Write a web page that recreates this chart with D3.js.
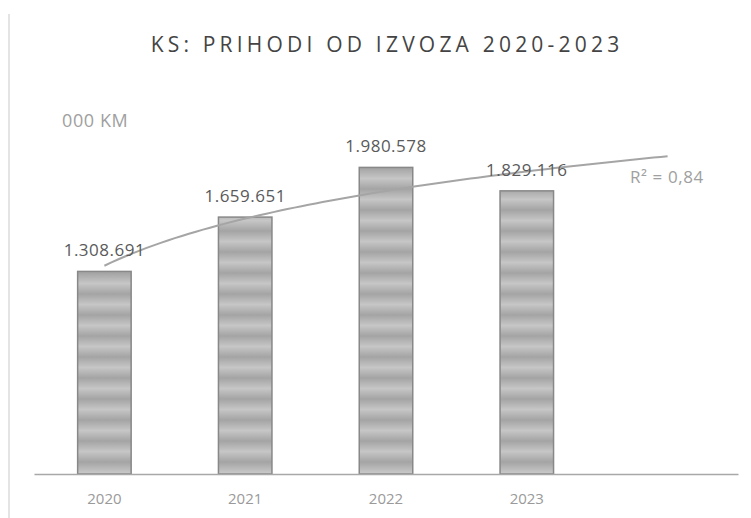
<!DOCTYPE html>
<html>
<head>
<meta charset="utf-8">
<script src="https://cdn.jsdelivr.net/npm/d3@7"></script>
<style>
  body { margin: 0; background: #fff; }
  svg { display: block; font-family: 'Open Sans', 'Liberation Sans', sans-serif; }
</style>
</head>
<body>
<div id="chart"></div>
<script>
const years = ['2020', '2021', '2022', '2023'];
const values = [1308691, 1659651, 1980578, 1829116];
const valueLabels = ['1.308.691', '1.659.651', '1.980.578', '1.829.116'];
const unitLabel = '000 KM';
const titleText = 'KS: PRIHODI OD IZVOZA 2020-2023';
const r2Text = 'R² = 0,84';

const width = 751;
const height = 518;

const svg = d3.select('#chart')
  .append('svg')
  .attr('width', width)
  .attr('height', height);

// stripy grey fill like the scanned bars
const defs = svg.append('defs');
const grad = defs.append('linearGradient')
  .attr('id', 'stripeGrad')
  .attr('x1', 0).attr('y1', 0).attr('x2', 0).attr('y2', 1);
grad.append('stop').attr('offset', '0%').attr('stop-color', '#a4a4a4');
grad.append('stop').attr('offset', '50%').attr('stop-color', '#c6c6c6');
grad.append('stop').attr('offset', '100%').attr('stop-color', '#a4a4a4');
defs.append('pattern')
  .attr('id', 'stripes')
  .attr('patternUnits', 'userSpaceOnUse')
  .attr('width', 60).attr('height', 21)
  .append('rect')
  .attr('width', 60).attr('height', 21)
  .attr('fill', 'url(#stripeGrad)');

// scanned page edge
svg.append('line')
  .attr('x1', 9).attr('x2', 9)
  .attr('y1', 14).attr('y2', height)
  .attr('stroke', '#e4e4e4').attr('stroke-width', 2);

// one extra empty slot for the trend forecast
const slots = years.concat(['']);
const x = d3.scaleBand()
  .domain(slots)
  .range([34, 738])
  .paddingInner(0.62)
  .paddingOuter(0.31);

const y = d3.scaleLinear()
  .domain([0, 2000000])
  .range([474, 164.4]);

svg.append('text')
  .attr('x', 387).attr('y', 52)
  .attr('text-anchor', 'middle')
  .style('font-size', '21px')
  .style('letter-spacing', '4.2px')
  .style('fill', '#444')
  .text(titleText);

svg.append('text')
  .attr('x', 62).attr('y', 127)
  .style('font-size', '18px')
  .style('letter-spacing', '0.6px')
  .style('fill', '#a0a0a0')
  .text(unitLabel);

const data = years.map((yr, i) => ({ year: yr, value: values[i], label: valueLabels[i] }));

svg.selectAll('rect.bar')
  .data(data).enter()
  .append('rect')
  .attr('class', 'bar')
  .attr('x', d => x(d.year))
  .attr('y', d => y(d.value))
  .attr('width', x.bandwidth())
  .attr('height', d => y(0) - y(d.value))
  .attr('fill', 'url(#stripes)')
  .attr('stroke', '#888')
  .attr('stroke-width', 1.5);

// baseline axis
const xAxis = d3.axisBottom(x).tickValues(years).tickSize(0).tickPadding(19);
const gx = svg.append('g')
  .attr('transform', `translate(0, ${y(0)})`)
  .call(xAxis);
gx.select('.domain').attr('stroke', '#a8a8a8').attr('stroke-width', 1.5);
gx.selectAll('text')
  .style('font-size', '15px')
  .style('font-family', "'Open Sans', 'Liberation Sans', sans-serif")
  .style('fill', '#9a9a9a');

// logarithmic trendline (least squares on ln(index))
const lnX = values.map((v, i) => Math.log(i + 1));
const meanL = d3.mean(lnX);
const meanY = d3.mean(values);
const a = d3.sum(values, (v, i) => (lnX[i] - meanL) * (v - meanY)) / d3.sum(lnX, l => (l - meanL) ** 2);
const b = meanY - a * meanL;
const cx = i => x(slots[0]) + x.bandwidth() / 2 + i * x.step();
const trendPts = d3.range(1, 5.001, 0.05).map(t => [cx(t - 1), y(a * Math.log(t) + b)]);

svg.append('path')
  .attr('d', d3.line()(trendPts))
  .attr('fill', 'none')
  .attr('stroke', '#a5a5a5')
  .attr('stroke-width', 2);

svg.selectAll('text.val')
  .data(data).enter()
  .append('text')
  .attr('class', 'val')
  .attr('x', d => x(d.year) + x.bandwidth() / 2)
  .attr('y', d => y(d.value) - 15)
  .attr('text-anchor', 'middle')
  .style('font-size', '17px')
  .style('letter-spacing', '0.5px')
  .style('fill', '#5a5a5a')
  .text(d => d.label);

svg.append('text')
  .attr('x', 630).attr('y', 183)
  .style('font-size', '17px')
  .style('letter-spacing', '0.6px')
  .style('fill', '#a0a0a0')
  .text(r2Text);
</script>
</body>
</html>
